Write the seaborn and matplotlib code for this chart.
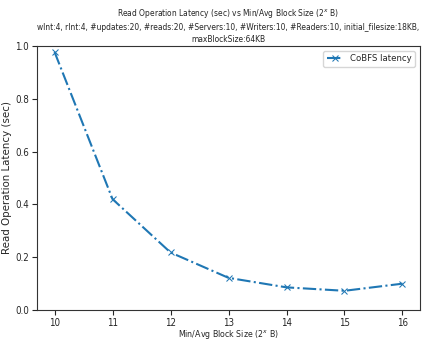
import matplotlib
matplotlib.use("Agg")
import matplotlib.pyplot as plt
import seaborn as sns
import pandas as pd
import os
from matplotlib import font_manager

block_size_exp = [10, 11, 12, 13, 14, 15, 16]
latency = [0.977, 0.42, 0.218, 0.122, 0.086, 0.073, 0.10]
series_name = "CoBFS latency"
title = ("Read Operation Latency (sec) vs Min/Avg Block Size (2$^x$ B)\n"
         "wInt:4, rInt:4, #updates:20, #reads:20, #Servers:10, #Writers:10, #Readers:10, initial_filesize:18KB,\n"
         "maxBlockSize:64KB")
xlabel = "Min/Avg Block Size (2$^x$ B)"
ylabel = "Read Operation Latency (sec)"

sns.set_style("ticks")

cands = []
for f in font_manager.fontManager.ttflist:
    base = os.path.basename(f.fname).lower()
    if ("condensed" in base or "narrow" in base) and "bold" not in base and "oblique" not in base and "italic" not in base and "light" not in base:
        cands.append(f.fname)
prio = ["dejavusanscondensed.ttf", "liberationsansnarrow-regular.ttf", "robotocondensed-regular.ttf"]
narrow_file = None
for p in prio:
    for c in cands:
        if os.path.basename(c).lower() == p:
            narrow_file = c
            break
    if narrow_file:
        break
if narrow_file is None and cands:
    narrow_file = sorted(cands)[0]

plt.rcParams['font.family'] = ['DejaVu Sans']
if narrow_file:
    def fp(size):
        return font_manager.FontProperties(fname=narrow_file, size=size)
    scale = 1.0
else:
    def fp(size):
        return font_manager.FontProperties(family='DejaVu Sans', size=size)
    scale = 0.8

df = pd.DataFrame({"x": block_size_exp, "y": latency})

fig = plt.figure(figsize=(4.22, 3.4), dpi=100)
ax = fig.add_axes([0.088, 0.088, 0.907, 0.777])
sns.lineplot(data=df, x="x", y="y", ax=ax, marker="x", linestyle="-.",
             color="#1f77b4", linewidth=1.5, markersize=5, markeredgecolor="#1f77b4",
             label=series_name)
ax.set_ylim(0, 1.0)
ax.set_xlim(9.7, 16.3)
ax.set_yticks([0, 0.2, 0.4, 0.6, 0.8, 1.0])
ax.set_yticklabels(["0.0", "0.2", "0.4", "0.6", "0.8", "1.0"])
ax.tick_params(length=3.5, width=0.8, pad=2.5)
for lab in ax.get_xticklabels() + ax.get_yticklabels():
    lab.set_fontproperties(fp(7.0 * scale))
ax.set_xlabel(xlabel, fontproperties=fp(6.3 * scale), labelpad=0)
ax.set_ylabel(ylabel, fontsize=7.4, family='DejaVu Sans', labelpad=2)
ax.set_title(title, fontproperties=fp(6.0 * scale), pad=3, linespacing=1.4)
for s in ax.spines.values():
    s.set_linewidth(0.8)
    s.set_color("#333333")
leg = ax.legend(loc="upper right", prop=fp(6.8 * scale), frameon=True, handlelength=1.6)
fig.savefig("out.png", dpi=100)
